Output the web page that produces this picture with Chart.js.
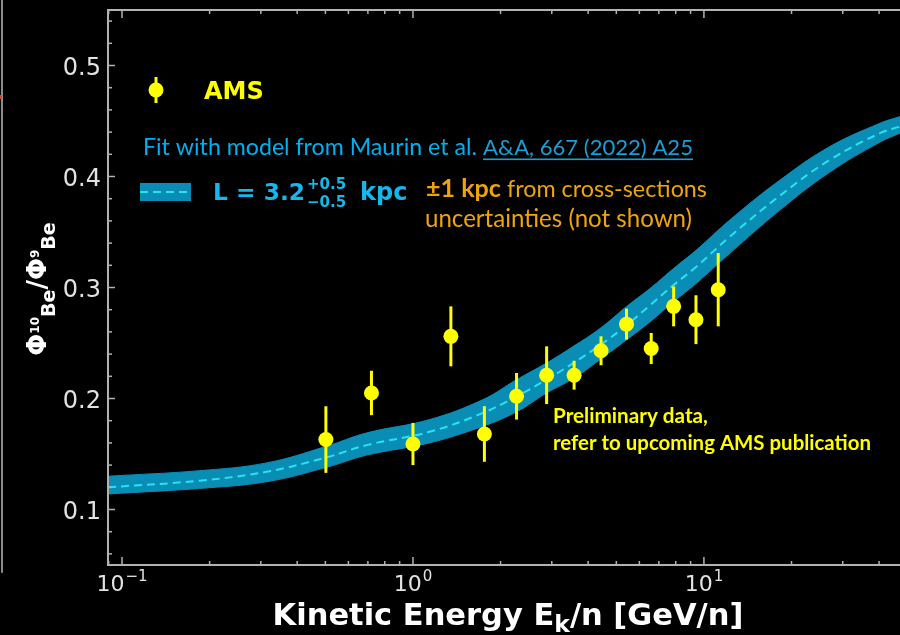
<!DOCTYPE html>
<html>
<head>
<meta charset="utf-8">
<title>10Be/9Be ratio vs kinetic energy</title>
<script src="https://cdn.jsdelivr.net/npm/chart.js@4/dist/chart.umd.min.js"></script>
<style>
  html, body { margin: 0; padding: 0; background: #000; overflow: hidden; }
  #wrap { position: relative; width: 900px; height: 635px; }
  #c { display: block; width: 900px; height: 635px; }
  #edge { position: absolute; left: 1px; top: 0; width: 2px; height: 573px; background: #8c8c8c; border-radius: 0 0 1px 1px; }
  #edgeMark { position: absolute; left: 0; top: 95px; width: 2px; height: 4px; background: #d9482a; }
</style>
</head>
<body>
<div id="wrap">
  <canvas id="c" width="900" height="635"></canvas>
  <div id="edge"></div>
  <div id="edgeMark"></div>
</div>
<script>
// AMS measurements: kinetic energy per nucleon [GeV/n], ratio, symmetric error
const amsEnergy = [0.502, 0.72, 1.00, 1.35, 1.76, 2.27, 2.88, 3.58, 4.43, 5.42, 6.59, 7.87, 9.39, 11.2];
const amsRatio  = [0.163, 0.205, 0.159, 0.256, 0.168, 0.202, 0.221, 0.221, 0.243, 0.267, 0.245, 0.283, 0.271, 0.298];
const amsError  = [0.030, 0.020, 0.019, 0.027, 0.025, 0.021, 0.026, 0.013, 0.013, 0.014, 0.014, 0.018, 0.022, 0.033];

// Model (Maurin et al.) for L = 3.2 kpc, with its +/-0.5 kpc band
const modelEnergy = [0.0895, 0.185, 0.314, 0.505, 0.693, 1.14, 1.74, 2.27, 2.88, 3.56, 4.39, 5.43, 6.52, 7.85, 9.44, 12.3, 18.3, 27.1, 40.3, 47.2];
const modelUpper  = [0.130, 0.135, 0.142, 0.157, 0.169, 0.181, 0.199, 0.217, 0.232, 0.247, 0.263, 0.283, 0.299, 0.317, 0.334, 0.361, 0.397, 0.427, 0.448, 0.454];
const modelCenter = [0.120, 0.126, 0.134, 0.147, 0.158, 0.170, 0.187, 0.202, 0.217, 0.232, 0.248, 0.266, 0.284, 0.302, 0.319, 0.346, 0.383, 0.415, 0.439, 0.445];
const modelLower  = [0.114, 0.119, 0.125, 0.138, 0.149, 0.160, 0.175, 0.188, 0.205, 0.218, 0.235, 0.253, 0.269, 0.287, 0.304, 0.331, 0.370, 0.404, 0.431, 0.439];

// Axis ranges and tick labels
const xRange = [0.0895, 47.2];
const yRange = [0.05, 0.55];
const xMajorTicks = [0.1, 1, 10];
const xTickExponents = ['\u22121', '0', '1'];
const yMajorTicks = [0.1, 0.2, 0.3, 0.4, 0.5];
const yTickLabels = ['0.1', '0.2', '0.3', '0.4', '0.5'];

const COLORS = {
  ams: '#ffff00',
  band: '#0a8db5',
  bandLine: '#27e3f2',
  axis: '#b2b2b2',
  tick: '#e2e2e2',
  fitText: '#00b0f0',
  link: '#179fda',
  lText: '#12b8ee',
  orange: '#f0a30a',
  white: '#ffffff'
};
const DEJAVU = '"DejaVu Sans"';
const SLIDE = 'Lato, "Open Sans", sans-serif';

const xy = (xs, ys) => xs.map((v, i) => ({ x: v, y: ys[i] }));

function fitText(ctx, text, x, y, width, weight, family) {
  ctx.font = `${weight} 100px ${family}`;
  const size = 100 * width / ctx.measureText(text).width;
  ctx.font = `${weight} ${size.toFixed(2)}px ${family}`;
  ctx.fillText(text, x, y);
  return size;
}

const decor = {
  id: 'decor',
  afterDatasetDraw(chart, args) {
    // error bars go above the model band and below the markers
    if (args.index !== 1) return;
    const { ctx, scales: { x, y } } = chart;
    ctx.save();
    ctx.strokeStyle = COLORS.ams;
    ctx.lineWidth = 3;
    amsEnergy.forEach((e, i) => {
      const px = x.getPixelForValue(e);
      ctx.beginPath();
      ctx.moveTo(px, y.getPixelForValue(amsRatio[i] + amsError[i]));
      ctx.lineTo(px, y.getPixelForValue(amsRatio[i] - amsError[i]));
      ctx.stroke();
    });
    ctx.restore();
  },
  afterDraw(chart) {
    const { ctx, chartArea: a, scales: { x, y } } = chart;
    ctx.save();

    // frame: left, bottom, top spines
    ctx.strokeStyle = COLORS.axis;
    ctx.lineWidth = 2;
    ctx.beginPath();
    ctx.moveTo(a.right + 2, a.top); ctx.lineTo(a.left, a.top);
    ctx.lineTo(a.left, a.bottom); ctx.lineTo(a.right + 2, a.bottom);
    ctx.stroke();

    // inward ticks
    ctx.lineWidth = 1.5;
    const tick = (x1, y1, x2, y2) => { ctx.beginPath(); ctx.moveTo(x1, y1); ctx.lineTo(x2, y2); ctx.stroke(); };
    for (let d = -2; d <= 1; d++) {
      for (let m = 1; m <= 9; m++) {
        const v = m * Math.pow(10, d);
        if (v < xRange[0] || v > xRange[1]) continue;
        const px = x.getPixelForValue(v);
        const len = m === 1 ? 8 : 4;
        tick(px, a.bottom, px, a.bottom - len);
        tick(px, a.top, px, a.top + len);
      }
    }
    for (let k = 3; k <= 27; k++) {
      const v = k * 0.02;
      if (v < yRange[0] || v > yRange[1]) continue;
      const py = y.getPixelForValue(v);
      const major = k % 5 === 0;
      tick(a.left, py, a.left + (major ? 7 : 4), py);
    }

    // y tick labels
    ctx.fillStyle = COLORS.tick;
    ctx.textAlign = 'right';
    ctx.textBaseline = 'alphabetic';
    ctx.font = `24px ${DEJAVU}`;
    yMajorTicks.forEach((v, i) => {
      ctx.fillText(yTickLabels[i], a.left - 7, y.getPixelForValue(v) + 9);
    });

    // x tick labels as powers of ten
    ctx.textAlign = 'left';
    xMajorTicks.forEach((v, i) => {
      const px = x.getPixelForValue(v);
      ctx.font = `22px ${DEJAVU}`;
      const w1 = ctx.measureText('10').width;
      ctx.font = `15px ${DEJAVU}`;
      const w2 = ctx.measureText(xTickExponents[i]).width;
      const start = px - (w1 + w2 + 1) / 2;
      ctx.font = `22px ${DEJAVU}`;
      ctx.fillText('10', start, 591);
      ctx.font = `15px ${DEJAVU}`;
      ctx.fillText(xTickExponents[i], start + w1 + 1, 581);
    });

    // x axis title
    ctx.fillStyle = COLORS.white;
    const partsX = [
      ['Kinetic Energy E', 30.5, 0],
      ['k', 23.5, 7],
      ['/n [GeV/n]', 30.5, 0]
    ];
    let total = 0;
    partsX.forEach(p => { ctx.font = `bold ${p[1]}px ${DEJAVU}`; p.push(ctx.measureText(p[0]).width); total += p[3]; });
    let cx = 508 - total / 2;
    partsX.forEach(p => {
      ctx.font = `bold ${p[1]}px ${DEJAVU}`;
      ctx.fillText(p[0], cx, 625 + p[2]);
      cx += p[3];
    });

    // y axis title, rotated
    const partsY = [
      ['\u03A6', 26, 0],
      ['10', 12, -7],
      ['Be', 19, 9],
      ['/', 26, 0],
      ['\u03A6', 26, 0],
      ['9', 12, -7],
      ['Be', 19, 9]
    ];
    total = 0;
    partsY.forEach(p => { ctx.font = `bold ${p[1]}px ${DEJAVU}`; p.push(ctx.measureText(p[0]).width); total += p[3]; });
    ctx.save();
    ctx.translate(0, 289);
    ctx.rotate(-Math.PI / 2);
    let u = -total / 2;
    partsY.forEach(p => {
      ctx.font = `bold ${p[1]}px ${DEJAVU}`;
      ctx.fillText(p[0], u, 46 + p[2]);
      u += p[3];
    });
    ctx.restore();

    // legend: AMS marker
    ctx.fillStyle = COLORS.ams;
    ctx.strokeStyle = COLORS.ams;
    ctx.lineWidth = 3;
    tick(156, 77, 156, 103);
    ctx.beginPath(); ctx.arc(156, 90, 7.5, 0, Math.PI * 2); ctx.fill();
    ctx.font = `bold 24px ${DEJAVU}`;
    ctx.fillText('AMS', 204, 99);

    // model reference line
    ctx.fillStyle = COLORS.fitText;
    fitText(ctx, 'Fit with model from Maurin et al.', 143, 155, 334, 'normal', SLIDE);
    ctx.fillStyle = COLORS.link;
    fitText(ctx, 'A&A, 667 (2022) A25', 483, 155, 210, 'normal', SLIDE);
    ctx.fillRect(483, 158.5, 210, 1.6);

    // legend: model band swatch
    ctx.fillStyle = COLORS.band;
    ctx.fillRect(140, 183, 51, 18);
    ctx.strokeStyle = COLORS.bandLine;
    ctx.lineWidth = 2;
    ctx.setLineDash([8, 5]);
    tick(140, 192, 191, 192);
    ctx.setLineDash([]);

    // L = 3.2 (+0.5 / -0.5) kpc
    ctx.fillStyle = COLORS.lText;
    fitText(ctx, 'L = 3.2', 213, 200, 92, 'bold', DEJAVU);
    ctx.font = `bold 15px ${DEJAVU}`;
    ctx.fillText('+0.5', 307, 189);
    ctx.fillText('\u22120.5', 307, 207);
    ctx.font = `bold 24px ${DEJAVU}`;
    ctx.fillText('kpc', 360, 200);

    // cross-section remark
    ctx.fillStyle = COLORS.orange;
    fitText(ctx, '\u00B11 kpc', 426, 197, 75, 'bold', SLIDE);
    fitText(ctx, 'from cross-sections', 507, 197, 200, 'normal', SLIDE);
    fitText(ctx, 'uncertainties (not shown)', 425, 227, 267, 'normal', SLIDE);

    // preliminary note
    ctx.fillStyle = COLORS.ams;
    fitText(ctx, 'Preliminary data,', 553, 423, 155, 'bold', SLIDE);
    fitText(ctx, 'refer to upcoming AMS publication', 553, 450, 318, 'bold', SLIDE);

    ctx.restore();
  }
};

new Chart(document.getElementById('c'), {
  type: 'line',
  data: {
    datasets: [
      {
        label: 'AMS',
        data: xy(amsEnergy, amsRatio),
        showLine: false,
        pointRadius: 7.5,
        pointBackgroundColor: COLORS.ams,
        pointBorderWidth: 0,
        pointBorderColor: COLORS.ams
      },
      {
        label: 'L = 3.2 kpc',
        data: xy(modelEnergy, modelCenter),
        borderColor: COLORS.bandLine,
        borderWidth: 2,
        borderDash: [8, 5],
        pointRadius: 0,
        fill: false,
        tension: 0.4
      },
      {
        label: 'upper',
        data: xy(modelEnergy, modelUpper),
        borderColor: COLORS.band,
        borderWidth: 1,
        backgroundColor: COLORS.band,
        pointRadius: 0,
        fill: '+1',
        tension: 0.4
      },
      {
        label: 'lower',
        data: xy(modelEnergy, modelLower),
        borderColor: COLORS.band,
        borderWidth: 1,
        pointRadius: 0,
        fill: false,
        tension: 0.4
      }
    ]
  },
  options: {
    responsive: false,
    animation: false,
    devicePixelRatio: 1,
    events: [],
    layout: { autoPadding: false, padding: { top: 10, right: 0, bottom: 0, left: 0 } },
    plugins: { legend: { display: false }, tooltip: { enabled: false } },
    scales: {
      x: {
        type: 'logarithmic',
        min: xRange[0], max: xRange[1],
        ticks: { display: false },
        grid: { display: false },
        border: { display: false },
        afterFit(s) { s.height = 70; s.paddingLeft = 0; s.paddingRight = 0; }
      },
      y: {
        type: 'linear',
        min: yRange[0], max: yRange[1],
        ticks: { display: false },
        grid: { display: false },
        border: { display: false },
        afterFit(s) { s.width = 108; s.paddingTop = 0; s.paddingBottom = 0; }
      }
    }
  },
  plugins: [decor]
});
</script>
</body>
</html>
